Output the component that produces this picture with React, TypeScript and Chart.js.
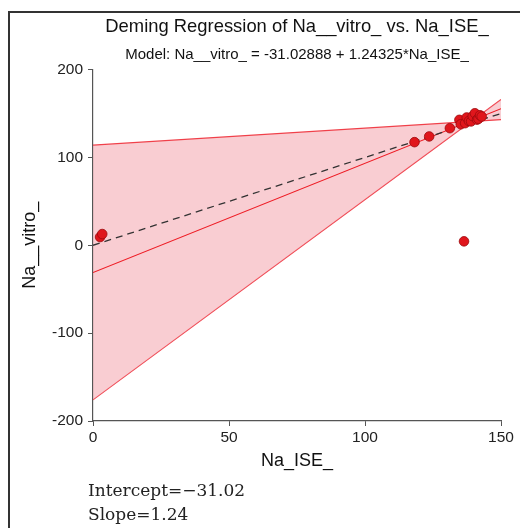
import React, { useEffect, useRef } from "react";
import { Chart, registerables } from "chart.js";
Chart.register(...registerables);

// Data
const lineX = [0, 150];
const fitY = [-31.03, 155.46];
const identityY = [0, 150];
const bandAY = [114, 143];
const bandBY = [-176, 166];
const pointX = [2.6, 3.4, 118.2, 123.6, 131.2, 134.7, 135.2, 136.8, 137.4, 138.2, 139.0, 139.6, 140.4, 141.2, 141.7, 142.3, 142.9, 136.4];
const pointY = [9.4, 12.8, 117.4, 123.9, 133.3, 142.8, 137.8, 139.0, 145.5, 141.5, 141.0, 147.0, 150.3, 143.0, 144.0, 148.0, 146.6, 4.5];
const xMin = 0, xMax = 150, xStep = 50;
const yMin = -200, yMax = 200, yStep = 100;
const titleText = "Deming Regression of Na__vitro_ vs. Na_ISE_";
const subtitleText = "Model: Na__vitro_ = -31.02888 + 1.24325*Na_ISE_";
const xLabel = "Na_ISE_";
const yLabel = "Na__vitro_";
const noteLines = ["Intercept=\u221231.02", "Slope=1.24"];

const FONT = "'Liberation Sans', Arial, sans-serif";

export default function App() {
  const ref = useRef<HTMLCanvasElement | null>(null);
  useEffect(() => {
    if (!ref.current) return;
    const pts = (xs: number[], ys: number[]) => xs.map((x, i) => ({ x, y: ys[i] }));
    const chart = new Chart(ref.current, {
      type: "scatter",
      data: {
        datasets: [
          {
            type: "scatter",
            data: pts(pointX, pointY),
            backgroundColor: "#e0161c",
            borderColor: "#9c0a0e",
            borderWidth: 0.8,
            pointRadius: 4.8,
            order: 0,
          } as any,
          {
            type: "line",
            data: pts(lineX, identityY),
            borderColor: "#333333",
            borderWidth: 1.3,
            borderDash: [7, 5],
            pointRadius: 0,
            fill: false,
            order: 1,
          },
          {
            type: "line",
            data: pts(lineX, fitY),
            borderColor: "#ee1c25",
            borderWidth: 1.1,
            pointRadius: 0,
            fill: false,
            order: 2,
          },
          {
            type: "line",
            data: pts(lineX, bandAY),
            borderColor: "#f0404a",
            borderWidth: 1.1,
            pointRadius: 0,
            fill: "+1",
            backgroundColor: "rgba(240, 130, 142, 0.40)",
            order: 3,
          },
          {
            type: "line",
            data: pts(lineX, bandBY),
            borderColor: "#f0404a",
            borderWidth: 1.1,
            pointRadius: 0,
            fill: false,
            order: 4,
          },
        ],
      },
      options: {
        animation: false,
        responsive: false,
        devicePixelRatio: 1,
        layout: { padding: { left: 10, right: 19, top: 0, bottom: 8 } },
        plugins: {
          legend: { display: false },
          tooltip: { enabled: false },
          title: {
            display: true,
            fullSize: false,
            text: titleText,
            color: "#111",
            font: { family: FONT, size: 18.4, weight: "normal" },
            padding: { top: 16, bottom: 4 },
          },
          subtitle: {
            display: true,
            fullSize: false,
            text: subtitleText,
            color: "#111",
            font: { family: FONT, size: 15, weight: "normal" },
            padding: { top: 4, bottom: 5.5 },
          },
        },
        scales: {
          x: {
            type: "linear",
            min: xMin,
            max: xMax,
            ticks: { stepSize: xStep, color: "#222", font: { family: FONT, size: 15.5 }, padding: 2, maxRotation: 0 },
            grid: { display: true, drawOnChartArea: false, drawTicks: true, tickLength: 5, color: "#555" },
            border: { display: true, color: "#555", width: 1.2 },
            title: { display: true, text: xLabel, color: "#111", font: { family: FONT, size: 18 }, padding: { top: 0, bottom: 0 } },
            afterFit: (s: any) => { s.height = 51; },
          },
          y: {
            type: "linear",
            min: yMin,
            max: yMax,
            ticks: { stepSize: yStep, color: "#222", font: { family: FONT, size: 15.5 }, padding: 5 },
            grid: { display: true, drawOnChartArea: false, drawTicks: true, tickLength: 5, color: "#555" },
            border: { display: true, color: "#555", width: 1.2 },
            title: { display: true, text: yLabel, color: "#111", font: { family: FONT, size: 18 }, padding: { top: 9.2, bottom: 0 } },
            afterFit: (s: any) => { s.width = 83; },
          },
        },
      } as any,
    });
    return () => chart.destroy();
  }, []);

  return (
    <div style={{ position: "absolute", left: 0, top: 0, width: 520, height: 528, background: "#fff", overflow: "hidden" }}>
      <canvas ref={ref} width={520} height={480} style={{ position: "absolute", left: 0, top: 0, width: 520, height: 480 }} />
      <div style={{ position: "absolute", left: 8, top: 12, width: 2, height: 516, background: "#333" }} />
      <div style={{ position: "absolute", left: 8, top: 11, width: 512, height: 1.5, background: "#333" }} />
      <div style={{ position: "absolute", left: 88, top: 478, fontFamily: "'DejaVu Serif', serif", fontSize: 17, lineHeight: "24px", color: "#222" }}>
        {noteLines.map((t, i) => (
          <div key={i}>{t}</div>
        ))}
      </div>
    </div>
  );
}
